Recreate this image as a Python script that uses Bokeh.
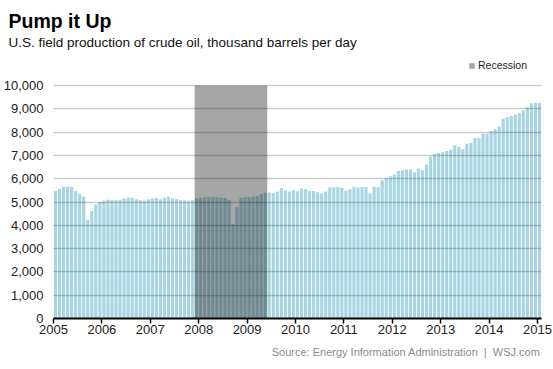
from bokeh.plotting import figure
from bokeh.models import (Range1d, FixedTicker, NumeralTickFormatter, Title,
                          Legend, LegendItem)
from bokeh.embed import file_html
from bokeh.resources import INLINE

# U.S. field production of crude oil, thousand barrels per day (monthly)
prod_2005 = [5470, 5560, 5650, 5660, 5650, 5470, 5330, 5240, 4240, 4610, 4890, 5000]
prod_2006 = [5050, 5100, 5070, 5080, 5100, 5150, 5180, 5180, 5120, 5080, 5060, 5120]
prod_2007 = [5150, 5170, 5120, 5180, 5220, 5150, 5130, 5080, 5060, 5050, 5080, 5150]
prod_2008 = [5180, 5200, 5200, 5210, 5200, 5180, 5170, 5080, 4050, 4790, 5180, 5200]
prod_2009 = [5200, 5240, 5260, 5330, 5400, 5410, 5380, 5450, 5600, 5500, 5450, 5500]
prod_2010 = [5460, 5580, 5560, 5470, 5470, 5420, 5370, 5450, 5620, 5630, 5630, 5600]
prod_2011 = [5480, 5550, 5650, 5620, 5640, 5640, 5360, 5670, 5640, 5930, 6030, 6100]
prod_2012 = [6180, 6330, 6360, 6390, 6400, 6280, 6430, 6360, 6610, 6960, 7070, 7100]
prod_2013 = [7140, 7190, 7240, 7430, 7360, 7260, 7500, 7530, 7760, 7740, 7930, 7930]
prod_2014 = [8040, 8110, 8240, 8570, 8640, 8690, 8760, 8810, 8930, 9060, 9240, 9260]
prod_2015 = [9260]

year_ticks = [2005, 2006, 2007, 2008, 2009, 2010, 2011, 2012, 2013, 2014, 2015]
value_ticks = [0, 1000, 2000, 3000, 4000, 5000, 6000, 7000, 8000, 9000, 10000]
recession_start = 2007 + 11 / 12   # Dec 2007
recession_end = 2009 + 5 / 12      # through May 2009

values = (prod_2005 + prod_2006 + prod_2007 + prod_2008 + prod_2009 + prod_2010 +
          prod_2011 + prod_2012 + prod_2013 + prod_2014 + prod_2015)
month_pos = [2005 + (i + 0.5) / 12 for i in range(len(values))]

FONT = "Liberation Sans"
BAR = "#a9d5e3"

# layout (pixels): frame from y=52 to y=318, scale so that 10,000 sits at y=85
FRAME_TOP, ZERO_Y, TOP_TICK_Y = 52, 318, 85
y_top = value_ticks[-1] * (ZERO_Y - FRAME_TOP) / (ZERO_Y - TOP_TICK_Y)

p = figure(width=553, height=369, output_backend="svg", toolbar_location=None,
           title=None,
           x_range=Range1d(2005, 2005 + len(values) / 12),
           y_range=Range1d(value_ticks[0], y_top),
           min_border_left=52, min_border_right=12, min_border_top=FRAME_TOP,
           min_border_bottom=369 - ZERO_Y)
p.outline_line_color = None
p.xgrid.visible = False
p.ygrid.visible = False

p.vbar(x=month_pos, top=values, width=0.78 / 12, fill_color=BAR, line_color=None)
p.hspan(y=value_ticks[1:], line_color="black", line_alpha=0.2, line_width=1.5)
rec = p.quad(left=[recession_start], right=[recession_end], bottom=[value_ticks[0]],
             top=[value_ticks[-1]], fill_color="black", fill_alpha=0.35, line_color=None)

xa = p.xaxis[0]
xa.ticker = FixedTicker(ticks=year_ticks)
xa.formatter = NumeralTickFormatter(format="0")
xa.axis_line_color = "black"
xa.axis_line_width = 2
xa.major_tick_line_color = "black"
xa.major_tick_line_width = 1.5
xa.major_tick_out = 5
xa.major_tick_in = 0
xa.minor_tick_line_color = None
xa.major_label_standoff = 1
xa.major_label_text_font = FONT
xa.major_label_text_font_size = "13px"
xa.major_label_text_color = "#222222"

ya = p.yaxis[0]
ya.ticker = FixedTicker(ticks=value_ticks)
ya.formatter = NumeralTickFormatter(format="0,0")
ya.axis_line_color = None
ya.major_tick_line_color = None
ya.major_tick_out = 0
ya.major_tick_in = 0
ya.minor_tick_line_color = None
ya.major_label_standoff = 10
ya.major_label_text_font = FONT
ya.major_label_text_font_size = "13px"
ya.major_label_text_color = "#222222"

legend = Legend(items=[LegendItem(label="Recession", renderers=[rec])],
                location=(415, ZERO_Y - 71), border_line_color=None,
                background_fill_alpha=0, padding=0, margin=0, spacing=0,
                glyph_width=7, glyph_height=7, label_height=10, label_standoff=3,
                label_text_font=FONT, label_text_font_size="10.5px",
                label_text_color="#222222")
p.add_layout(legend)

p.add_layout(Title(text="U.S. field production of crude oil, thousand barrels per day",
                   align="left", offset=-45, standoff=6, text_font=FONT,
                   text_font_size="13.5px", text_font_style="normal",
                   text_color="#111111"), "above")
p.add_layout(Title(text="Pump it Up", align="left", offset=-45, standoff=-4,
                   text_font=FONT, text_font_size="19.5px", text_font_style="bold",
                   text_color="black"), "above")

p.add_layout(Title(text="Source: Energy Information Administration\u00a0\u00a0|\u00a0\u00a0WSJ.com",
                   align="right", offset=1, standoff=15, text_font=FONT,
                   text_font_size="11px", text_font_style="normal",
                   text_color="#8a8a8a"), "below")

open("out.html", "w").write(file_html(p, INLINE))
